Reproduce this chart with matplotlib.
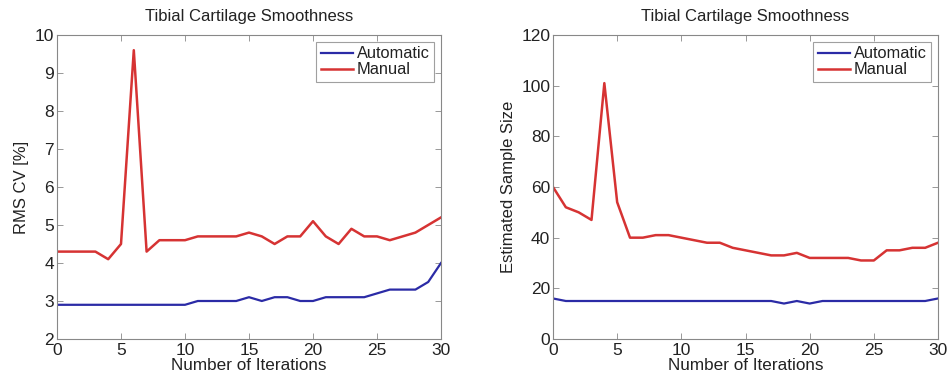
import matplotlib
matplotlib.use("Agg")
import matplotlib.pyplot as plt

iterations = list(range(31))

cv_automatic = [2.9, 2.9, 2.9, 2.9, 2.9, 2.9, 2.9, 2.9, 2.9, 2.9, 2.9,
                3.0, 3.0, 3.0, 3.0, 3.1, 3.0, 3.1, 3.1, 3.0, 3.0,
                3.1, 3.1, 3.1, 3.1, 3.2, 3.3, 3.3, 3.3, 3.5, 4.0]
cv_manual = [4.3, 4.3, 4.3, 4.3, 4.1, 4.5, 9.6, 4.3, 4.6, 4.6, 4.6,
             4.7, 4.7, 4.7, 4.7, 4.8, 4.7, 4.5, 4.7, 4.7, 5.1,
             4.7, 4.5, 4.9, 4.7, 4.7, 4.6, 4.7, 4.8, 5.0, 5.2]

ss_automatic = [16, 15, 15, 15, 15, 15, 15, 15, 15, 15, 15,
                15, 15, 15, 15, 15, 15, 15, 14, 15, 14,
                15, 15, 15, 15, 15, 15, 15, 15, 15, 16]
ss_manual = [60, 52, 50, 47, 101, 54, 40, 40, 41, 41, 40,
             39, 38, 38, 36, 35, 34, 33, 33, 34, 32,
             32, 32, 32, 31, 31, 35, 35, 36, 36, 38]

title = "Tibial Cartilage Smoothness"
xlabel = "Number of Iterations"
left_ylabel = "RMS CV [%]"
right_ylabel = "Estimated Sample Size"
legend_labels = ["Automatic", "Manual"]
xticks = [0, 5, 10, 15, 20, 25, 30]
left_yticks = [2, 3, 4, 5, 6, 7, 8, 9, 10]
right_yticks = [0, 20, 40, 60, 80, 100, 120]

plt.rcParams['font.family'] = ['Liberation Sans', 'DejaVu Sans']
BLUE = '#2b2ba6'
RED = '#d63333'
TXT = '#222222'

fig = plt.figure(figsize=(9.48, 3.79), dpi=100)
ax1 = fig.add_axes([57/948, 1-339/379, (441-57)/948, (339-35)/379])
ax2 = fig.add_axes([553/948, 1-339/379, (938-553)/948, (339-35)/379])

def style(ax, yticks, ylabel):
    ax.set_xlim(0, 30)
    ax.set_ylim(yticks[0], yticks[-1])
    ax.set_xticks(xticks)
    ax.set_yticks(yticks)
    ax.tick_params(direction='in', top=True, right=True, length=4,
                   width=0.6, color='#888888', labelsize=12.5,
                   labelcolor=TXT, pad=2)
    ax.tick_params(axis='x', pad=3)
    for s in ax.spines.values():
        s.set_color('#888888')
        s.set_linewidth(0.8)
    ax.set_title(title, fontsize=12, color=TXT, pad=10)
    ax.set_xlabel(xlabel, fontsize=12.3, color=TXT, labelpad=0)
    ax.set_ylabel(ylabel, fontsize=12, color=TXT, labelpad=4)
    leg = ax.legend(legend_labels, loc='upper right', fontsize=11.8,
                    frameon=True, fancybox=False, handlelength=2.0,
                    handletextpad=0.2, borderpad=0.3, labelspacing=0.05,
                    borderaxespad=0.4)
    leg.get_frame().set_edgecolor('#888888')
    leg.get_frame().set_linewidth(0.8)
    for t in leg.get_texts():
        t.set_color(TXT)

ax1.plot(iterations, cv_automatic, color=BLUE, lw=1.6)
ax1.plot(iterations, cv_manual, color=RED, lw=1.8)
style(ax1, left_yticks, left_ylabel)

ax2.plot(iterations, ss_automatic, color=BLUE, lw=1.6)
ax2.plot(iterations, ss_manual, color=RED, lw=1.8)
style(ax2, right_yticks, right_ylabel)

fig.savefig("out.png", dpi=100)
